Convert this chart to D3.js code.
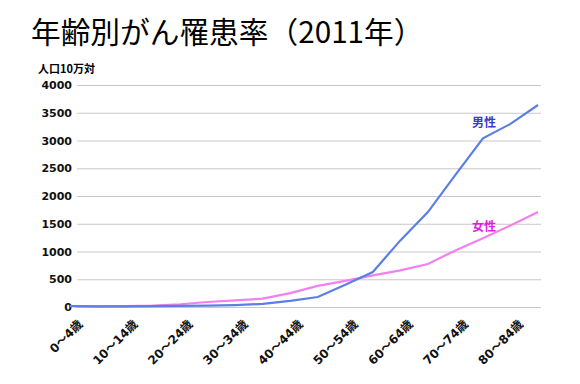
<!DOCTYPE html>
<html>
<head>
<meta charset="utf-8">
<script src="https://cdn.jsdelivr.net/npm/d3@7"></script>
<style>
  body { margin: 0; background: #fff; }
  text { font-family: "Noto Sans CJK JP", "Noto Sans", sans-serif; }
</style>
</head>
<body>
<div id="chart"></div>
<script>
// age groups (5-year bands), only every other one gets a label
const ages = ["0～4歳", "5～9歳", "10～14歳", "15～19歳", "20～24歳", "25～29歳", "30～34歳", "35～39歳",
  "40～44歳", "45～49歳", "50～54歳", "55～59歳", "60～64歳", "65～69歳", "70～74歳", "75～79歳",
  "80～84歳", "85歳～"];
const male = [15, 10, 10, 15, 20, 25, 35, 55, 110, 180, 400, 630, 1200, 1710, 2380, 3040, 3300, 3640];
const female = [18, 12, 15, 25, 50, 90, 120, 150, 250, 380, 470, 570, 660, 775, 1020, 1240, 1470, 1710];
const yTicks = [0, 500, 1000, 1500, 2000, 2500, 3000, 3500, 4000];

const W = 580, H = 384;
const margin = { top: 85, right: 42, bottom: 77, left: 70 };
const numFont = "'DejaVu Sans', 'Noto Sans CJK JP', sans-serif";

const svg = d3.select("#chart").append("svg")
  .attr("width", W).attr("height", H);

const x = d3.scalePoint()
  .domain(ages)
  .range([margin.left, W - margin.right]);

const y = d3.scaleLinear()
  .domain([0, 4000])
  .range([H - margin.bottom, margin.top]);

// title
svg.append("text")
  .attr("x", 31).attr("y", 43)
  .style("font-size", "29.7px")
  .attr("fill", "#000")
  .text("年齢別がん罹患率（2011年）");

// unit
svg.append("text")
  .attr("x", 38).attr("y", 73)
  .style("font-size", "11px")
  .style("font-weight", "bold")
  .text("人口10万対");

// gridlines + y labels
const yAxis = svg.append("g")
  .attr("transform", `translate(${margin.left},0)`)
  .call(d3.axisLeft(y).tickValues(yTicks).tickFormat(d3.format("d"))
    .tickSize(-(W - margin.right - margin.left + 3)).tickPadding(6));
yAxis.select(".domain").remove();
yAxis.selectAll(".tick line")
  .attr("x1", 7)
  .attr("stroke", "#c8c8c8");
yAxis.selectAll(".tick text")
  .attr("x", 2)
  .style("font-family", numFont)
  .style("font-size", "11px")
  .style("font-weight", "bold")
  .attr("fill", "#111");

// x labels
const xAxis = svg.append("g")
  .attr("transform", `translate(0,${H - margin.bottom})`)
  .call(d3.axisBottom(x).tickValues(ages.filter((d, i) => i % 2 === 0)).tickSize(0));
xAxis.select(".domain").remove();
xAxis.selectAll(".tick text")
  .attr("text-anchor", "end")
  .attr("x", 0).attr("y", 0)
  .attr("dy", "0.35em")
  .attr("transform", "translate(10,15) rotate(-45)")
  .style("font-family", numFont)
  .style("font-size", "12px")
  .style("font-weight", "bold")
  .attr("fill", "#111");

const line = d3.line()
  .x((d, i) => x(ages[i]))
  .y(d => y(d));

svg.append("path")
  .datum(female)
  .attr("fill", "none")
  .attr("stroke", "#f280f0")
  .attr("stroke-width", 2.2)
  .attr("d", line);

svg.append("path")
  .datum(male)
  .attr("fill", "none")
  .attr("stroke", "#5b7fe3")
  .attr("stroke-width", 2.2)
  .attr("d", line);

// series labels
svg.append("text")
  .attr("x", 472).attr("y", 127)
  .style("font-size", "12px")
  .style("font-weight", "bold")
  .attr("fill", "#3a3ad0")
  .text("男性");

svg.append("text")
  .attr("x", 472).attr("y", 231)
  .style("font-size", "12px")
  .style("font-weight", "bold")
  .attr("fill", "#e020e0")
  .text("女性");
</script>
</body>
</html>
